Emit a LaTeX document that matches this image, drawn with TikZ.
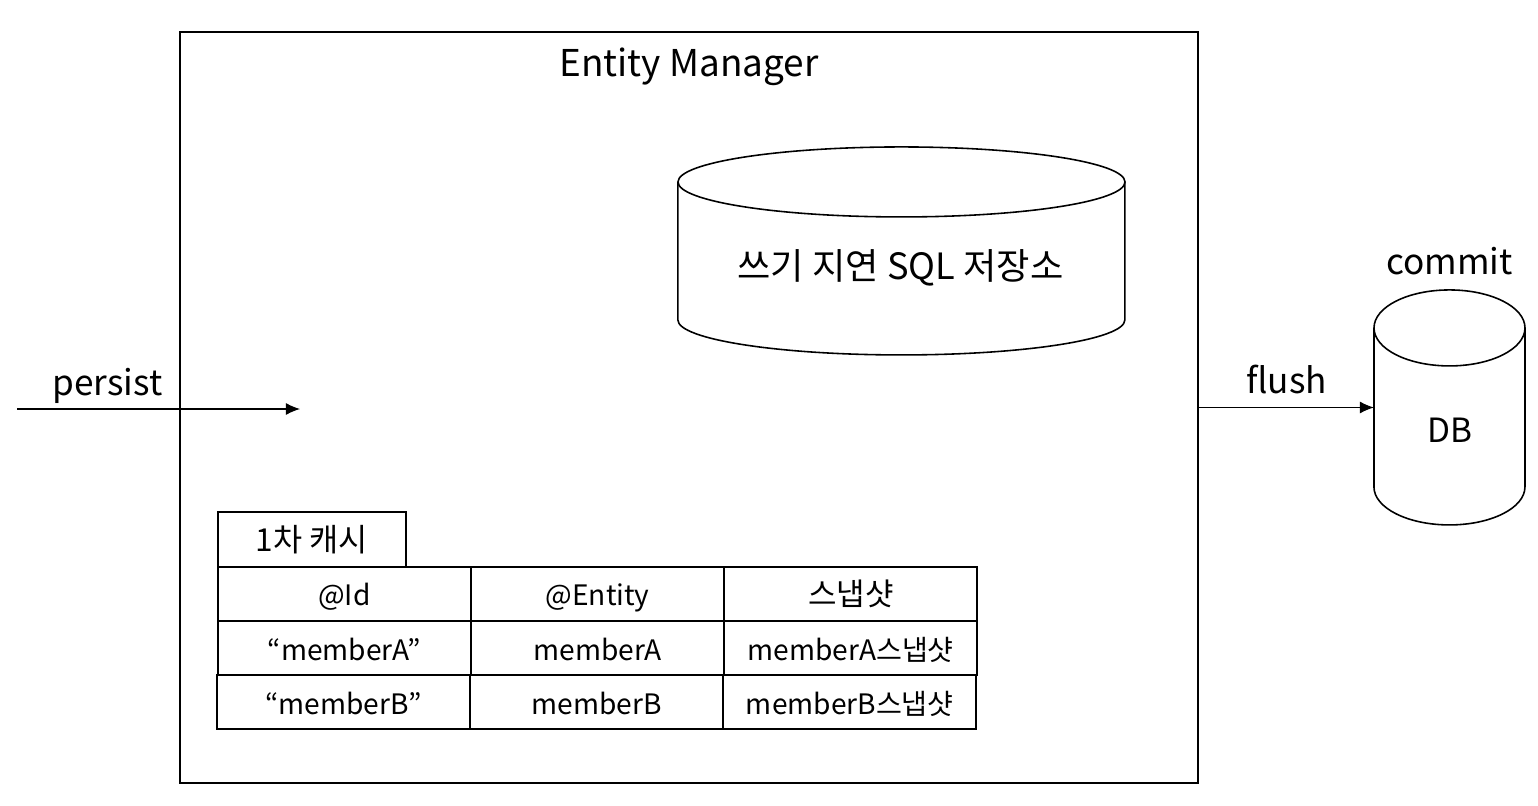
\documentclass[tikz,border=0pt]{standalone}
\usepackage{fontspec}
\setmainfont{Noto Sans CJK KR}
\usetikzlibrary{shapes.geometric, arrows.meta, positioning}
\tikzstyle{manager} = [rectangle, draw=black, line width=0.5pt, minimum width=10.18cm, minimum height=7.51cm, inner sep=0pt]
\tikzstyle{storebox} = [rectangle, inner sep=0pt, outer sep=0pt]
\tikzstyle{storeline} = [draw=black, line width=0.45pt]
\tikzstyle{tabbox} = [rectangle, draw=black, line width=0.6pt, minimum width=1.88cm, minimum height=0.55cm, inner sep=0pt, outer sep=0pt, text height=7pt, text depth=0.2pt, font=\fontsize{9}{10}\selectfont]
\tikzstyle{cell} = [rectangle, draw=black, line width=0.6pt, minimum width=2.53cm, minimum height=0.54cm, inner sep=0pt, outer sep=0pt, text height=7pt, text depth=0.2pt, font=\fontsize{8}{10}\selectfont]
\tikzstyle{bigtext} = [font=\fontsize{10}{12}\selectfont]
\tikzstyle{arrowtext} = [font=\fontsize{10}{12}\selectfont, inner sep=0pt, text depth=0pt, above=3.8pt]
\tikzstyle{arrow} = [line width=0.3pt, -{Latex[length=4pt,width=3.4pt]}]
\begin{document}
\begin{tikzpicture}[x=0.01cm, y=-0.01cm]
	\useasboundingbox (0,0) rectangle (1538,806);

	\node (boxEntityManager) [manager] at (689,407.5) {};
	\node (titleManager) [bigtext, font=\fontsize{10.5}{12}\selectfont] at (689,67) {Entity Manager};

	% write-behind SQL store
	\node (cylWriteSQL) [storebox, minimum width=4.47cm, minimum height=2.08cm] at (901.5,251) {};
	\draw [storeline] (cylWriteSQL.north) ++(0,35) ellipse [x radius=223.5, y radius=35];
	\draw [storeline] (cylWriteSQL.north west) ++(0,35) -- ++(0,138) arc [start angle=180, end angle=0, x radius=223.5, y radius=35] -- ++(0,-138);
	\node (txtWriteSQL) [font=\fontsize{10.3}{12}\selectfont] at (900.5,268) {쓰기 지연 SQL 저장소};

	% database
	\node (cylDB) [storebox, minimum width=1.51cm, minimum height=2.35cm] at (1449.5,407.5) {};
	\draw [storeline] (cylDB.north) ++(0,38) ellipse [x radius=75.5, y radius=38];
	\draw [storeline] (cylDB.north west) ++(0,38) -- ++(0,159) arc [start angle=180, end angle=0, x radius=75.5, y radius=38] -- ++(0,-159);
	\node (txtDB) [font=\fontsize{9.5}{12}\selectfont] at (1449.5,430) {DB};
	\node (txtCommit) [bigtext] at (1449.5,261) {commit};

	% 1st level cache
	\node (tabCache) [tabbox] at (312,539.5) {1차 캐시};
	\node (cellIdHead) [cell, anchor=north west] at (tabCache.south west) {@Id};
	\node (cellEntityHead) [cell, right=0pt of cellIdHead] {@Entity};
	\node (cellSnapHead) [cell, right=0pt of cellEntityHead, font=\fontsize{8.8}{10}\selectfont] {스냅샷};
	\node (cellIdA) [cell, below=0pt of cellIdHead] {“memberA”};
	\node (cellEntityA) [cell, right=0pt of cellIdA] {memberA};
	\node (cellSnapA) [cell, right=0pt of cellEntityA] {memberA스냅샷};
	\node (cellIdB) [cell, below=0pt of cellIdA, xshift=-0.01cm] {“memberB”};
	\node (cellEntityB) [cell, right=0pt of cellIdB] {memberB};
	\node (cellSnapB) [cell, right=0pt of cellEntityB] {memberB스냅샷};

	\coordinate (persistStart) at (17,409);
	\coordinate (persistEnd) at (300,409);

	\draw [arrow] (persistStart) -- node[arrowtext, pos=0.32] {persist} (persistEnd);
	\draw [arrow] (boxEntityManager.east) -- node[arrowtext] {flush} (cylDB.west);
\end{tikzpicture}
\end{document}
